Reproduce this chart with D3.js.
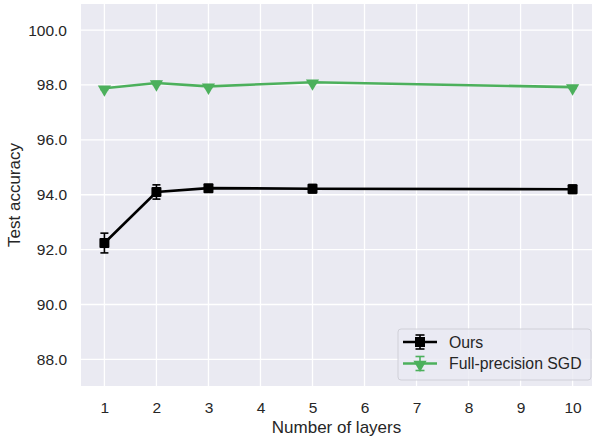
<!DOCTYPE html>
<html>
<head>
<meta charset="utf-8">
<script src="https://cdn.jsdelivr.net/npm/d3@7"></script>
<style>
  body { margin: 0; background: #fff; }
  text { font-family: "Liberation Sans", Arial, sans-serif; fill: #262626; }
</style>
</head>
<body>
<svg id="chart" width="592" height="440"></svg>
<script>
// data
const layers = [1, 2, 3, 5, 10]
const oursMean = [92.24, 94.1, 94.24, 94.22, 94.2]
const oursErr = [0.36, 0.26, 0.1, 0.15, 0.15]
const sgdMean = [97.88, 98.07, 97.95, 98.1, 97.92]
const sgdErr = [0.05, 0.06, 0.05, 0.05, 0.05]
const xTicks = [1, 2, 3, 4, 5, 6, 7, 8, 9, 10]
const yTicks = [88, 90, 92, 94, 96, 98, 100]

const plot = { left: 81, top: 4, right: 596, bottom: 386 }

const svg = d3.select('#chart')

const x = d3.scaleLinear().domain([0.55, 10.45]).range([plot.left, plot.right])
const y = d3.scaleLinear().domain([87.03, 100.95]).range([plot.bottom, plot.top])

// background
svg.append('rect')
  .attr('x', plot.left).attr('y', plot.top)
  .attr('width', plot.right - plot.left).attr('height', plot.bottom - plot.top)
  .attr('fill', '#eaeaf2')

const grid = svg.append('g').attr('stroke', '#fff').attr('stroke-width', 1.3)
grid.selectAll('.gx').data(xTicks).join('line')
  .attr('x1', d => x(d)).attr('x2', d => x(d))
  .attr('y1', plot.top).attr('y2', plot.bottom)
grid.selectAll('.gy').data(yTicks).join('line')
  .attr('y1', d => y(d)).attr('y2', d => y(d))
  .attr('x1', plot.left).attr('x2', plot.right)

// axes (no domain line, no ticks, like seaborn darkgrid)
const xAxis = svg.append('g')
  .attr('transform', `translate(0,${plot.bottom})`)
  .call(d3.axisBottom(x).tickValues(xTicks).tickSize(0).tickPadding(16).tickFormat(d3.format('d')))
const yAxis = svg.append('g')
  .attr('transform', `translate(${plot.left},0)`)
  .call(d3.axisLeft(y).tickValues(yTicks).tickSize(0).tickPadding(14).tickFormat(d3.format('.1f')))
;[xAxis, yAxis].forEach(a => {
  a.select('.domain').remove()
  a.selectAll('text')
    .attr('font-family', '"Liberation Sans", Arial, sans-serif')
    .attr('font-size', 15.5).attr('fill', '#262626')
})

svg.append('text')
  .attr('x', (plot.left + plot.right) / 2 - 2).attr('y', 433)
  .attr('text-anchor', 'middle').attr('font-size', 17)
  .text('Number of layers')
svg.append('text')
  .attr('transform', `translate(20,${(plot.top + plot.bottom) / 2}) rotate(-90)`)
  .attr('text-anchor', 'middle').attr('font-size', 17)
  .text('Test accuracy')

svg.append('clipPath').attr('id', 'clip')
  .append('rect').attr('x', plot.left).attr('y', plot.top)
  .attr('width', plot.right - plot.left).attr('height', plot.bottom - plot.top)

const tri = d3.symbol().type(d3.symbolTriangle).size(75)

function drawSeries(means, errs, color, marker) {
  const pts = layers.map((l, i) => ({ x: l, y: means[i], e: errs[i] }))
  const g = svg.append('g').attr('clip-path', 'url(#clip)')
  g.append('path')
    .datum(pts)
    .attr('fill', 'none').attr('stroke', color).attr('stroke-width', 2.6)
    .attr('d', d3.line().x(d => x(d.x)).y(d => y(d.y)))
  const eb = g.selectAll('.eb').data(pts).join('g').attr('stroke', color).attr('stroke-width', 1.6)
  eb.append('line')
    .attr('x1', d => x(d.x)).attr('x2', d => x(d.x))
    .attr('y1', d => y(d.y - d.e)).attr('y2', d => y(d.y + d.e))
  ;[-1, 1].forEach(s => {
    eb.append('line')
      .attr('x1', d => x(d.x) - 4).attr('x2', d => x(d.x) + 4)
      .attr('y1', d => y(d.y + s * d.e)).attr('y2', d => y(d.y + s * d.e))
  })
  if (marker === 'square') {
    g.selectAll('.m').data(pts).join('rect')
      .attr('x', d => x(d.x) - 5).attr('y', d => y(d.y) - 5)
      .attr('width', 10).attr('height', 10).attr('rx', 1)
      .attr('fill', color)
  } else {
    g.selectAll('.m').data(pts).join('path')
      .attr('d', tri)
      .attr('transform', d => `translate(${x(d.x)},${y(d.y) + 1}) rotate(180)`)
      .attr('fill', color)
  }
}

drawSeries(sgdMean, sgdErr, '#4cb05c', 'tri')
drawSeries(oursMean, oursErr, '#000', 'square')

// legend
const leg = svg.append('g').attr('transform', 'translate(398,329)')
leg.append('rect')
  .attr('width', 193).attr('height', 51).attr('rx', 3)
  .attr('fill', '#eaeaf2').attr('fill-opacity', 0.8)
  .attr('stroke', '#d0d0d8').attr('stroke-width', 1)
const entries = [
  { name: 'Ours', color: '#000', marker: 'square' },
  { name: 'Full-precision SGD', color: '#4cb05c', marker: 'tri' }
]
entries.forEach((e, i) => {
  const cy = 13 + i * 21.5
  const g = leg.append('g').attr('transform', `translate(0,${cy})`)
  g.append('line').attr('x1', 5).attr('x2', 39).attr('stroke', e.color).attr('stroke-width', 2.6)
  g.append('line').attr('x1', 22).attr('x2', 22).attr('y1', -7).attr('y2', 7)
    .attr('stroke', e.color).attr('stroke-width', 1.6)
  ;[-7, 7].forEach(v => g.append('line').attr('x1', 17.5).attr('x2', 26.5).attr('y1', v).attr('y2', v)
    .attr('stroke', e.color).attr('stroke-width', 1.6))
  if (e.marker === 'square') {
    g.append('rect').attr('x', 17).attr('y', -5).attr('width', 10).attr('height', 10).attr('fill', e.color)
  } else {
    g.append('path').attr('d', tri).attr('transform', 'translate(22,1) rotate(180)').attr('fill', e.color)
  }
  g.append('text').attr('x', 51).attr('y', 5.5).attr('font-size', 15.8).text(e.name)
})
</script>
</body>
</html>
